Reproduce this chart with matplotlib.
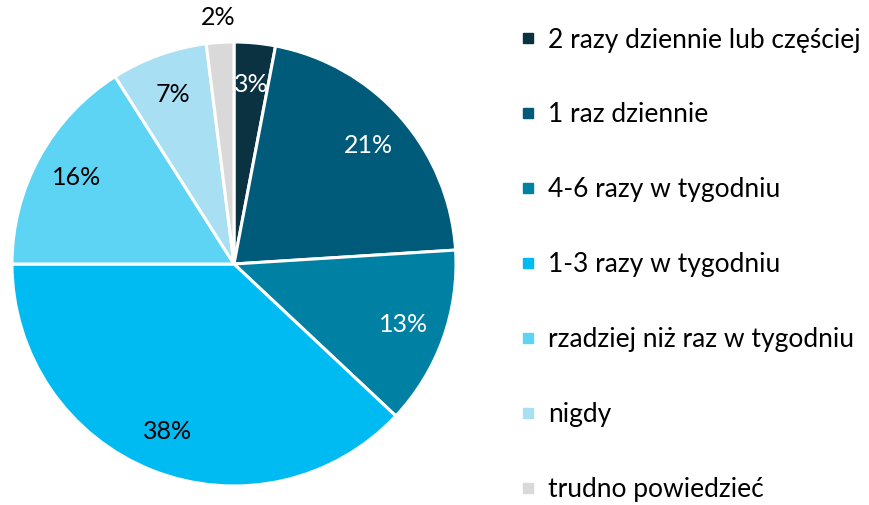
import matplotlib.pyplot as plt
from matplotlib.lines import Line2D

categories = ["2 razy dziennie lub częściej", "1 raz dziennie", "4-6 razy w tygodniu",
              "1-3 razy w tygodniu", "rzadziej niż raz w tygodniu", "nigdy", "trudno powiedzieć"]
values = [3, 21, 13, 38, 16, 7, 2]
colors = ["#0B3240", "#005A7A", "#0080A3", "#00BAF2", "#5ED4F4", "#A9DFF3", "#D9D9D9"]
label_colors = ["white", "white", "white", "black", "black", "black", "black"]

plt.rcParams['font.family'] = ['Lato', 'DejaVu Sans']

fig = plt.figure(figsize=(8.69, 5.05), dpi=100)
W, H = 869, 505
cx, cy, r = 234, 264, 222
ax = fig.add_axes([(cx - r) / W, (H - cy - r) / H, 2 * r / W, 2 * r / H])

wedges, texts, autotexts = ax.pie(values, colors=colors, startangle=90, counterclock=False,
                                  autopct='%1.0f%%', pctdistance=0.81,
                                  wedgeprops=dict(edgecolor='white', linewidth=2.2),
                                  textprops=dict(fontsize=18))
for t, c in zip(autotexts, label_colors):
    t.set_color(c)
# small slice label sits outside
autotexts[-1].set_position((-0.07, 1.11))
ax.set_xlim(-1, 1)
ax.set_ylim(-1, 1)
ax.set_aspect('equal')

handles = [Line2D([], [], marker='s', linestyle='none', markersize=7.5,
                  markerfacecolor=c, markeredgecolor=c) for c in colors]
fig.legend(handles, categories, loc='upper left', bbox_to_anchor=(510 / W, 1 - 17 / H),
           frameon=False, fontsize=19, handlelength=0.6, handletextpad=0.45,
           labelspacing=1.89, borderaxespad=0)

fig.savefig("out.png", dpi=100)
